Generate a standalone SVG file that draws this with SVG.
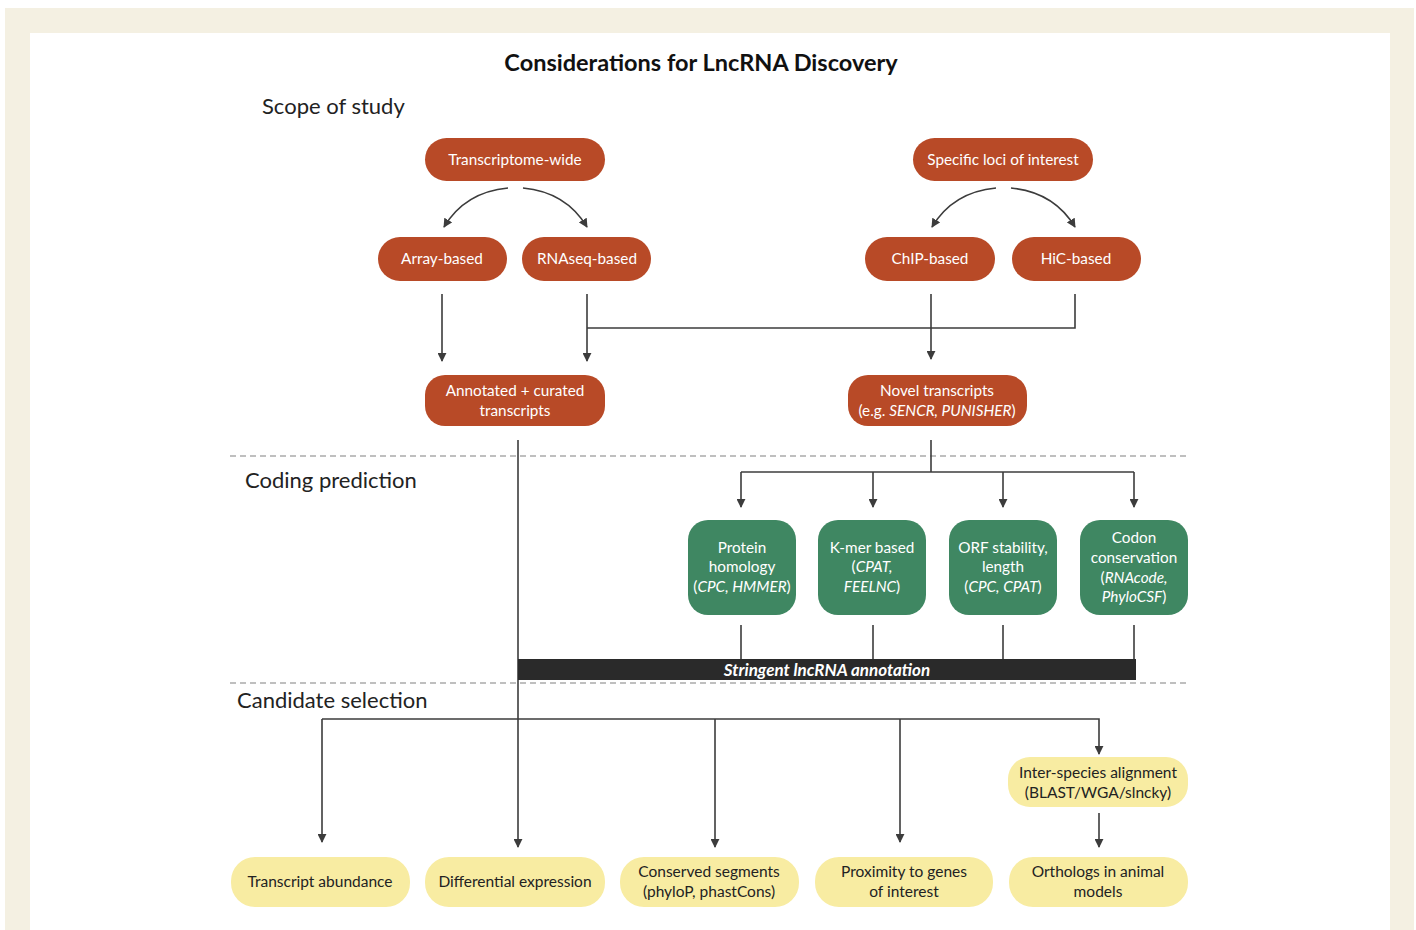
<svg xmlns="http://www.w3.org/2000/svg" width="1416" height="930" viewBox="0 0 1416 930">
<defs>
<marker id="ah" viewBox="0 0 10 10" refX="9" refY="5" markerWidth="9" markerHeight="9" markerUnits="userSpaceOnUse" orient="auto">
<path d="M0,0 L10,5 L0,10 z" fill="#3c3c3c"/>
</marker>
<style>
.t{font-family:Lato,"Open Sans","Liberation Sans",sans-serif;}
.red{fill:#b84a27;}
.grn{fill:#3f8762;}
.yel{fill:#f8eca2;}
.wt{fill:#ffffff;font-size:15.3px;text-anchor:middle;}
.bt{fill:#222222;font-size:15.5px;text-anchor:middle;}
.sec{fill:#222222;font-size:22px;}
.ln{stroke:#3c3c3c;stroke-width:1.6;fill:none;}
.dash{stroke:#aaaaaa;stroke-width:1.5;stroke-dasharray:6,4;fill:none;}
</style>
</defs>
<rect x="0" y="0" width="1416" height="930" fill="#ffffff"/>
<rect x="5" y="8" width="1409" height="922" fill="#f4f0e2"/>
<rect x="30" y="33" width="1360" height="897" fill="#ffffff"/>

<text class="t" x="701" y="71" font-size="23.5" font-weight="bold" text-anchor="middle" fill="#111">Considerations for LncRNA Discovery</text>
<text class="t sec" x="262" y="114" font-size="21.5">Scope of study</text>
<text class="t sec" x="245" y="488">Coding prediction</text>
<text class="t sec" x="237" y="708">Candidate selection</text>

<line class="dash" x1="230" y1="456" x2="1188" y2="456"/>
<line class="dash" x1="230" y1="683" x2="1188" y2="683"/>

<g id="connectors">
<path class="ln" d="M508,188 Q465,192 444,227" marker-end="url(#ah)"/>
<path class="ln" d="M523,188 Q566,192 587,227" marker-end="url(#ah)"/>
<path class="ln" d="M996,188 Q953,192 932,227" marker-end="url(#ah)"/>
<path class="ln" d="M1011,188 Q1054,192 1075,227" marker-end="url(#ah)"/>
<line class="ln" x1="442" y1="294" x2="442" y2="361" marker-end="url(#ah)"/>
<line class="ln" x1="587" y1="294" x2="587" y2="361" marker-end="url(#ah)"/>
<polyline class="ln" points="587,328 1075,328 1075,294"/>
<line class="ln" x1="931" y1="294" x2="931" y2="359" marker-end="url(#ah)"/>
<line class="ln" x1="518" y1="440" x2="518" y2="847" marker-end="url(#ah)"/>
<line class="ln" x1="931" y1="440" x2="931" y2="472"/>
<line class="ln" x1="741" y1="472" x2="1134" y2="472"/>
<line class="ln" x1="741" y1="472" x2="741" y2="507" marker-end="url(#ah)"/>
<line class="ln" x1="873" y1="472" x2="873" y2="507" marker-end="url(#ah)"/>
<line class="ln" x1="1003" y1="472" x2="1003" y2="507" marker-end="url(#ah)"/>
<line class="ln" x1="1134" y1="472" x2="1134" y2="507" marker-end="url(#ah)"/>
<line class="ln" x1="741" y1="625" x2="741" y2="660"/>
<line class="ln" x1="873" y1="625" x2="873" y2="660"/>
<line class="ln" x1="1003" y1="625" x2="1003" y2="660"/>
<line class="ln" x1="1134" y1="625" x2="1134" y2="660"/>
<polyline class="ln" points="322,719 1099,719 1099,754" marker-end="url(#ah)"/>
<line class="ln" x1="322" y1="719" x2="322" y2="842" marker-end="url(#ah)"/>
<line class="ln" x1="715" y1="719" x2="715" y2="847" marker-end="url(#ah)"/>
<line class="ln" x1="900" y1="719" x2="900" y2="842" marker-end="url(#ah)"/>
<line class="ln" x1="1099" y1="813" x2="1099" y2="847" marker-end="url(#ah)"/>
</g>

<g id="bar">
<rect x="518" y="659" width="618" height="21" fill="#2a2a2a"/>
<text class="t" x="827" y="675.5" font-size="17" font-weight="bold" font-style="italic" fill="#ffffff" text-anchor="middle">Stringent lncRNA annotation</text>
</g>

<g id="n-transcriptome"><rect class="red" x="425" y="138" width="180" height="43" rx="21.5"/><text class="t wt" x="515" y="165">Transcriptome-wide</text></g>
<g id="n-specific"><rect class="red" x="913" y="138" width="180" height="43" rx="21.5"/><text class="t wt" x="1003" y="165">Specific loci of interest</text></g>
<g id="n-array"><rect class="red" x="378" y="237" width="129" height="44" rx="22"/><text class="t wt" x="442" y="264">Array-based</text></g>
<g id="n-rnaseq"><rect class="red" x="522" y="237" width="129" height="44" rx="22"/><text class="t wt" x="587" y="264">RNAseq-based</text></g>
<g id="n-chip"><rect class="red" x="865" y="237" width="130" height="44" rx="22"/><text class="t wt" x="930" y="264">ChIP-based</text></g>
<g id="n-hic"><rect class="red" x="1012" y="237" width="129" height="44" rx="22"/><text class="t wt" x="1076" y="264">HiC-based</text></g>
<g id="n-annotated"><rect class="red" x="425" y="375" width="180" height="51" rx="20"/><text class="t wt" x="515" y="396">Annotated + curated</text><text class="t wt" x="515" y="416">transcripts</text></g>
<g id="n-novel"><rect class="red" x="848" y="375" width="179" height="51" rx="20"/><text class="t wt" x="937" y="396">Novel transcripts</text><text class="t wt" x="937" y="416">(e.g. <tspan font-style="italic">SENCR, PUNISHER</tspan>)</text></g>

<g id="n-protein"><rect class="grn" x="688" y="520" width="108" height="95" rx="20"/><text class="t wt" x="742" y="553">Protein</text><text class="t wt" x="742" y="572">homology</text><text class="t wt" x="742" y="592">(<tspan font-style="italic">CPC, HMMER</tspan>)</text></g>
<g id="n-kmer"><rect class="grn" x="818" y="520" width="108" height="95" rx="20"/><text class="t wt" x="872" y="553">K-mer based</text><text class="t wt" x="872" y="572">(<tspan font-style="italic">CPAT,</tspan></text><text class="t wt" x="872" y="592"><tspan font-style="italic">FEELNC</tspan>)</text></g>
<g id="n-orf"><rect class="grn" x="949" y="520" width="108" height="95" rx="20"/><text class="t wt" x="1003" y="553">ORF stability,</text><text class="t wt" x="1003" y="572">length</text><text class="t wt" x="1003" y="592">(<tspan font-style="italic">CPC, CPAT</tspan>)</text></g>
<g id="n-codon"><rect class="grn" x="1080" y="520" width="108" height="95" rx="20"/><text class="t wt" x="1134" y="543">Codon</text><text class="t wt" x="1134" y="563">conservation</text><text class="t wt" x="1134" y="583">(<tspan font-style="italic">RNAcode,</tspan></text><text class="t wt" x="1134" y="602"><tspan font-style="italic">PhyloCSF</tspan>)</text></g>

<g id="n-inter"><rect class="yel" x="1008" y="757" width="180" height="50" rx="22"/><text class="t bt" x="1098" y="778">Inter-species alignment</text><text class="t bt" x="1098" y="798">(BLAST/WGA/slncky)</text></g>
<g id="n-abund"><rect class="yel" x="231" y="857" width="179" height="50" rx="24"/><text class="t bt" x="320" y="887">Transcript abundance</text></g>
<g id="n-diff"><rect class="yel" x="425" y="857" width="180" height="50" rx="24"/><text class="t bt" x="515" y="887">Differential expression</text></g>
<g id="n-cons"><rect class="yel" x="620" y="857" width="179" height="50" rx="24"/><text class="t bt" x="709" y="877">Conserved segments</text><text class="t bt" x="709" y="897">(phyloP, phastCons)</text></g>
<g id="n-prox"><rect class="yel" x="815" y="857" width="178" height="50" rx="24"/><text class="t bt" x="904" y="877">Proximity to genes</text><text class="t bt" x="904" y="897">of interest</text></g>
<g id="n-orth"><rect class="yel" x="1009" y="857" width="179" height="50" rx="24"/><text class="t bt" x="1098" y="877">Orthologs in animal</text><text class="t bt" x="1098" y="897">models</text></g>
</svg>
